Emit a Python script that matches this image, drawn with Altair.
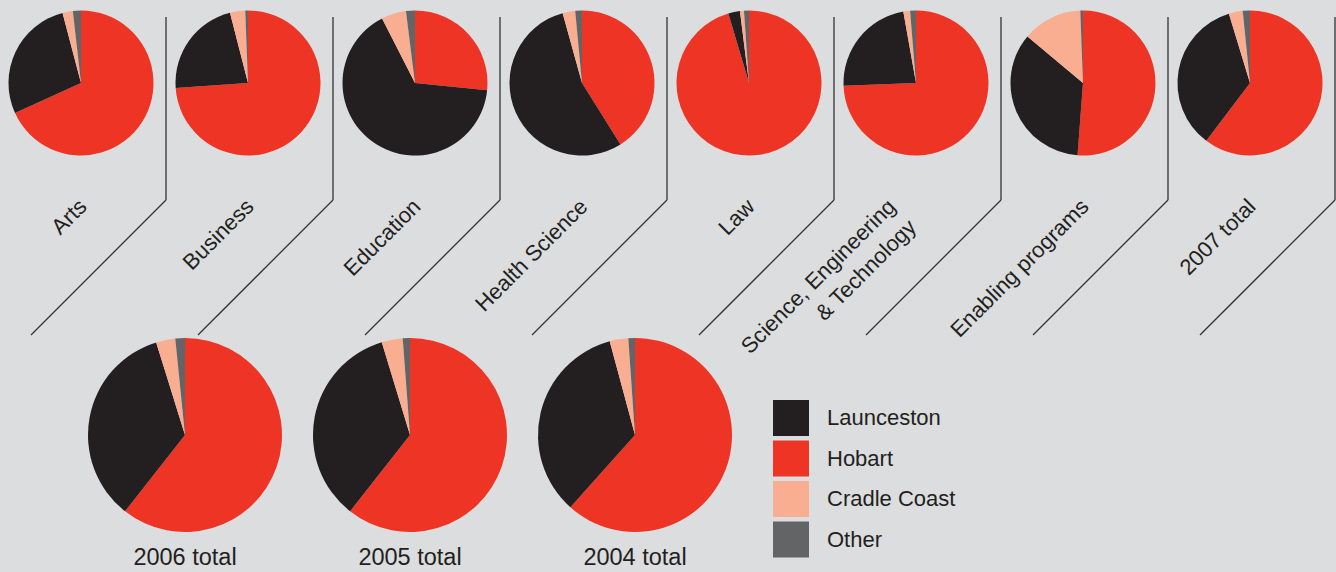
import altair as alt
import pandas as pd

# ---- data (percent of students by campus) ----
faculties = ["Arts", "Business", "Education", "Health Science", "Law",
             "Science, Engineering & Technology", "Enabling programs", "2007 total"]
faculty_labels = ["Arts", "Business", "Education", "Health Science", "Law",
                  "Science, Engineering\n& Technology", "Enabling programs", "2007 total"]
years = ["2006 total", "2005 total", "2004 total"]

campuses = ["Hobart", "Launceston", "Cradle Coast", "Other"]   # clockwise from 12 o'clock
legend_order = ["Launceston", "Hobart", "Cradle Coast", "Other"]
legend_colors = ["#231f20", "#ee3424", "#f9ad91", "#636466"]

hobart_top = [68.2, 73.9, 26.6, 41.1, 95.4, 74.4, 51.2, 60.3]
launceston_top = [27.7, 22.1, 65.9, 54.6, 2.6, 22.8, 34.9, 35.0]
cradle_top = [2.3, 3.4, 5.5, 2.8, 0.9, 1.5, 13.3, 3.1]
other_top = [1.8, 0.6, 2.0, 1.5, 1.1, 1.3, 0.6, 1.6]

hobart_years = [60.6, 60.6, 61.6]
launceston_years = [34.6, 34.7, 34.2]
cradle_years = [3.2, 3.5, 3.1]
other_years = [1.6, 1.2, 1.1]


def pie_table(groups, series):
    rows = []
    for i, g in enumerate(groups):
        vals = [series[c][i] for c in campuses]
        tot = sum(vals)
        cum = 0.0
        for c, v in zip(campuses, vals):
            rows.append(dict(group=g, campus=c, share=v,
                             start=cum / tot, end=(cum + v) / tot))
            cum += v
    return pd.DataFrame(rows)


top_df = pie_table(faculties, {"Hobart": hobart_top, "Launceston": launceston_top,
                               "Cradle Coast": cradle_top, "Other": other_top})
year_df = pie_table(years, {"Hobart": hobart_years, "Launceston": launceston_years,
                            "Cradle Coast": cradle_years, "Other": other_years})
label_df = pd.DataFrame({"group": faculties, "label": faculty_labels})
year_label_df = pd.DataFrame({"group": years})

FONT = "Liberation Sans"
INK = "#231f20"
LINE = "#333333"

color = alt.Color(
    "campus:N",
    scale=alt.Scale(domain=legend_order, range=legend_colors),
    legend=alt.Legend(orient="none", legendX=773, legendY=400, title=None,
                      symbolType="square", symbolSize=1296, symbolStrokeWidth=0,
                      symbolOpacity=1, labelFont=FONT, labelFontSize=22,
                      labelColor=INK, labelOffset=18, rowPadding=4.5,
                      padding=0, labelLimit=300, direction="vertical"),
)
theta = alt.Theta("start:Q", scale=alt.Scale(domain=[0, 1]))
theta2 = alt.Theta2("end:Q")

# ---- top row ----
xtop = alt.X("group:N", scale=alt.Scale(type="point", domain=faculties,
                                         range=[81, 1250], padding=0), axis=None)

top_arcs = alt.Chart(top_df).mark_arc(radius=72.5).encode(
    x=xtop, y=alt.value(83), theta=theta, theta2=theta2, color=color,
    tooltip=["group", "campus", "share"])

vlines = alt.Chart(label_df).mark_rule(color=LINE, strokeWidth=1.3, xOffset=85).encode(
    x=xtop, y=alt.value(17), y2=alt.value(200))

diag = alt.Chart(label_df).mark_rule(color=LINE, strokeWidth=1.3, xOffset=85,
                                     x2Offset=-50).encode(
    x=xtop, x2=alt.X2("group"), y=alt.value(200), y2=alt.value(335))

labels = alt.Chart(label_df).transform_filter(
    alt.datum.group != "Science, Engineering & Technology"
).mark_text(angle=315, align="right", baseline="alphabetic", xOffset=7,
            font=FONT, fontSize=22, color=INK).encode(
    x=xtop, y=alt.value(208), text="label:N")

set_label = alt.Chart(label_df).transform_filter(
    alt.datum.group == "Science, Engineering & Technology"
).mark_text(angle=315, align="right", baseline="alphabetic", xOffset=-19,
            font=FONT, fontSize=22, color=INK, lineBreak="\n", lineHeight=29).encode(
    x=xtop, y=alt.value(208), text="label:N")

top = alt.layer(top_arcs, vlines, diag, labels, set_label).properties(width=1336, height=337)

# ---- bottom row ----
xbot = alt.X("group:N", scale=alt.Scale(type="point", domain=years,
                                         range=[185, 635], padding=0), axis=None)

year_arcs = alt.Chart(year_df).mark_arc(radius=97).encode(
    x=xbot, y=alt.value(98), theta=theta, theta2=theta2, color=color,
    tooltip=["group", "campus", "share"])

year_labels = alt.Chart(year_label_df).mark_text(
    align="center", baseline="alphabetic", font=FONT, fontSize=23.5, color=INK
).encode(x=xbot, y=alt.value(228), text="group:N")

bottom = alt.layer(year_arcs, year_labels).properties(width=1336, height=235)

chart = alt.vconcat(top, bottom, spacing=0, bounds="flush").properties(
    background="#dcdddf", padding=0
).configure_view(strokeWidth=0)

chart.save("out.html", embed_options={"renderer": "svg", "actions": False})
